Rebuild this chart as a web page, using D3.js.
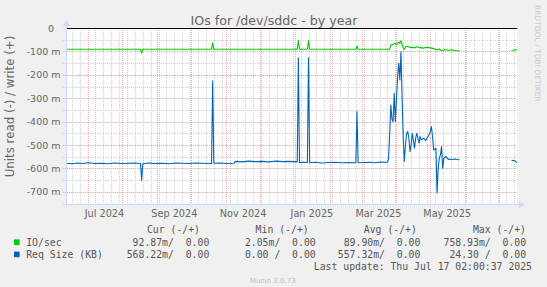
<!DOCTYPE html>
<html>
<head>
<meta charset="utf-8">
<script src="https://cdn.jsdelivr.net/npm/d3@7"></script>
<style>
  body { margin: 0; background: #f0f0f0; }
  svg { display: block; }
  text { font-family: "DejaVu Sans", sans-serif; fill: #666; }
  .mono { font-family: "DejaVu Sans Mono", monospace; white-space: pre; fill: #555; }
</style>
</head>
<body>
<script>
// read values (positive), drawn negated like munin does for read/write graphs
const ioRead = [
  ["2024-06-12", 0.091], ["2024-08-17", 0.091], ["2024-08-18", 0.107], ["2024-08-19", 0.091],
  ["2024-10-19", 0.091], ["2024-10-20", 0.063], ["2024-10-21", 0.091],
  ["2025-01-03", 0.091], ["2025-01-04", 0.054], ["2025-01-05", 0.091],
  ["2025-01-12", 0.091], ["2025-01-13", 0.054], ["2025-01-14", 0.091],
  ["2025-02-24", 0.091], ["2025-02-25", 0.077], ["2025-02-26", 0.091],
  ["2025-03-26", 0.091], ["2025-03-27", 0.073], ["2025-03-29", 0.070], ["2025-03-31", 0.065],
  ["2025-04-01", 0.072], ["2025-04-03", 0.060], ["2025-04-04", 0.066], ["2025-04-05", 0.054],
  ["2025-04-06", 0.070], ["2025-04-07", 0.087], ["2025-04-08", 0.091], ["2025-04-09", 0.080],
  ["2025-04-11", 0.078], ["2025-04-13", 0.084], ["2025-04-15", 0.082], ["2025-04-17", 0.085],
  ["2025-04-19", 0.080], ["2025-04-22", 0.084], ["2025-04-25", 0.086], ["2025-04-28", 0.082],
  ["2025-05-01", 0.085], ["2025-05-04", 0.088], ["2025-05-07", 0.094], ["2025-05-09", 0.090],
  ["2025-05-11", 0.097], ["2025-05-14", 0.092], ["2025-05-17", 0.095], ["2025-05-20", 0.093],
  ["2025-05-23", 0.096], ["2025-05-27", 0.097],
  ["2025-06-20", null],
  ["2025-07-12", 0.095], ["2025-07-17", 0.093]
];

const reqRead = [
  ["2024-06-12", 0.578], ["2024-06-17", 0.580], ["2024-06-22", 0.577], ["2024-06-27", 0.579],
  ["2024-07-02", 0.576], ["2024-07-08", 0.579], ["2024-07-13", 0.578], ["2024-07-19", 0.580],
  ["2024-07-25", 0.577], ["2024-07-31", 0.579], ["2024-08-06", 0.578], ["2024-08-12", 0.577],
  ["2024-08-17", 0.579], ["2024-08-18", 0.652], ["2024-08-19", 0.580], ["2024-08-24", 0.577],
  ["2024-08-30", 0.579], ["2024-09-05", 0.578], ["2024-09-11", 0.580], ["2024-09-17", 0.577],
  ["2024-09-23", 0.578], ["2024-09-29", 0.579], ["2024-10-05", 0.577], ["2024-10-11", 0.578],
  ["2024-10-19", 0.579], ["2024-10-20", 0.226], ["2024-10-21", 0.578], ["2024-10-27", 0.577],
  ["2024-11-02", 0.579], ["2024-11-08", 0.578], ["2024-11-09", 0.570], ["2024-11-15", 0.572],
  ["2024-11-21", 0.569], ["2024-11-27", 0.571], ["2024-12-03", 0.570], ["2024-12-09", 0.572],
  ["2024-12-15", 0.569], ["2024-12-21", 0.571], ["2024-12-27", 0.570], ["2025-01-03", 0.572],
  ["2025-01-04", 0.127], ["2025-01-05", 0.575], ["2025-01-09", 0.574], ["2025-01-12", 0.575],
  ["2025-01-13", 0.127], ["2025-01-14", 0.576], ["2025-01-19", 0.574], ["2025-01-25", 0.577],
  ["2025-01-31", 0.575], ["2025-02-06", 0.574], ["2025-02-12", 0.576], ["2025-02-18", 0.575],
  ["2025-02-24", 0.576], ["2025-02-25", 0.357], ["2025-02-26", 0.576], ["2025-03-03", 0.575],
  ["2025-03-08", 0.574], ["2025-03-13", 0.576], ["2025-03-18", 0.573], ["2025-03-24", 0.574],
  ["2025-03-25", 0.560], ["2025-03-26", 0.450], ["2025-03-27", 0.329], ["2025-03-28", 0.390],
  ["2025-03-29", 0.400], ["2025-03-30", 0.279], ["2025-03-31", 0.400], ["2025-04-01", 0.307],
  ["2025-04-02", 0.208], ["2025-04-03", 0.151], ["2025-04-04", 0.222], ["2025-04-05", 0.101],
  ["2025-04-06", 0.300], ["2025-04-07", 0.470], ["2025-04-08", 0.570], ["2025-04-09", 0.500],
  ["2025-04-10", 0.450], ["2025-04-11", 0.443], ["2025-04-12", 0.470], ["2025-04-13", 0.528],
  ["2025-04-14", 0.500], ["2025-04-15", 0.450], ["2025-04-16", 0.480], ["2025-04-17", 0.514],
  ["2025-04-18", 0.471], ["2025-04-19", 0.450], ["2025-04-20", 0.470], ["2025-04-21", 0.492],
  ["2025-04-22", 0.464], ["2025-04-23", 0.478], ["2025-04-24", 0.476], ["2025-04-25", 0.471],
  ["2025-04-26", 0.475], ["2025-04-27", 0.481], ["2025-04-28", 0.470], ["2025-04-29", 0.464],
  ["2025-04-30", 0.455], ["2025-05-01", 0.443], ["2025-05-02", 0.421], ["2025-05-03", 0.464],
  ["2025-05-04", 0.521], ["2025-05-05", 0.518], ["2025-05-06", 0.514], ["2025-05-07", 0.705],
  ["2025-05-08", 0.600], ["2025-05-09", 0.556], ["2025-05-10", 0.542], ["2025-05-11", 0.507],
  ["2025-05-12", 0.599], ["2025-05-13", 0.558], ["2025-05-14", 0.552], ["2025-05-15", 0.549],
  ["2025-05-16", 0.556], ["2025-05-17", 0.562], ["2025-05-18", 0.560], ["2025-05-20", 0.562],
  ["2025-05-23", 0.560], ["2025-05-25", 0.562], ["2025-05-27", 0.563],
  ["2025-06-20", null],
  ["2025-07-12", 0.565], ["2025-07-13", 0.566], ["2025-07-14", 0.565], ["2025-07-15", 0.567],
  ["2025-07-16", 0.572], ["2025-07-17", 0.575]
];

const yTicks = [0, -100, -200, -300, -400, -500, -600, -700];      // milli units
const xLabelMonths = ["2024-07", "2024-09", "2024-11", "2025-01", "2025-03", "2025-05"];

const seriesNames = ["IO/sec", "Req Size (KB)"];
const seriesColors = ["#00cc00", "#0066b3"];
const legendHeader = ["Cur (-/+)", "Min (-/+)", "Avg (-/+)", "Max (-/+)"];
const legendRows = [
  ["92.87m/  0.00", "2.05m/  0.00", "89.90m/  0.00", "758.93m/  0.00"],
  ["568.22m/  0.00", "0.00 /  0.00", "557.32m/  0.00", "24.30 /  0.00"]
];

const titleText = "IOs for /dev/sddc - by year";
const unitText = "Units read (-) / write (+)";
const lastUpdate = "Last update: Thu Jul 17 02:00:37 2025";

let svg = null;
let x, y = null;
let plot = null;

const parseDay = d3.utcParse("%Y-%m-%d");
const parseMonth = d3.utcParse("%Y-%m");

setupCanvas();
setupScales();
appendGrid();
appendLines();
appendAxes();
appendTexts();
appendLegend();

function setupCanvas() {
  plot = {left: 66.2, right: 517.2, top: 28, bottom: 203.5};
  svg = d3.select("body").append("svg")
    .attr("width", 547)
    .attr("height", 287);
  svg.append("rect")
    .attr("x", 66).attr("y", 28)
    .attr("width", 451).attr("height", 175.5)
    .attr("fill", "#ffffff");
}

function setupScales() {
  x = d3.scaleUtc()
    .domain([new Date(Date.UTC(2024, 5, 12, 2, 0, 37)), new Date(Date.UTC(2025, 6, 17, 2, 0, 37))])
    .range([plot.left, plot.right]);
  y = d3.scaleLinear()
    .domain([-0.75, 0])
    .range([plot.bottom, plot.top]);
}

function px(v) { return Math.round(v) + 0.5; }

function appendGrid() {
  const [t0, t1] = x.domain();
  const g = svg.append("g");
  const minorColor = "#cdcdcd";
  const majorColor = "#f2acac";

  // minor: weeks and 50m steps
  g.selectAll(".vminor")
    .data(d3.utcMonday.range(t0, t1))
    .enter().append("line")
    .attr("x1", d => px(x(d))).attr("x2", d => px(x(d)))
    .attr("y1", plot.top).attr("y2", plot.bottom + 2)
    .attr("stroke", minorColor).attr("stroke-dasharray", "1,1");

  g.selectAll(".hminor")
    .data(d3.range(-750, 0, 50))
    .enter().append("line")
    .attr("x1", plot.left - 3).attr("x2", plot.right)
    .attr("y1", d => px(y(d / 1000))).attr("y2", d => px(y(d / 1000)))
    .attr("stroke", minorColor).attr("stroke-dasharray", "1,1");

  // major: months and 100m steps
  g.selectAll(".vmajor")
    .data(d3.utcMonth.range(t0, t1))
    .enter().append("line")
    .attr("x1", d => px(x(d))).attr("x2", d => px(x(d)))
    .attr("y1", plot.top).attr("y2", plot.bottom + 3)
    .attr("stroke", majorColor).attr("stroke-dasharray", "1,1");

  g.selectAll(".hmajor")
    .data(yTicks.slice(1))
    .enter().append("line")
    .attr("x1", plot.left - 3).attr("x2", plot.right)
    .attr("y1", d => px(y(d / 1000))).attr("y2", d => px(y(d / 1000)))
    .attr("stroke", majorColor).attr("stroke-dasharray", "1,1");
}

function appendLines() {
  const line = d3.line()
    .defined(d => d[1] != null)
    .x(d => x(parseDay(d[0])))
    .y(d => y(-d[1]));

  [ioRead, reqRead].forEach((data, i) => {
    svg.append("path")
      .datum(data)
      .attr("fill", "none")
      .attr("stroke", seriesColors[i])
      .attr("stroke-width", 1.1)
      .attr("stroke-linejoin", "round")
      .attr("d", line);
  });

  // zero line
  svg.append("line")
    .attr("x1", plot.left).attr("x2", plot.right)
    .attr("y1", px(y(0))).attr("y2", px(y(0)))
    .attr("stroke", "#000000");
}

function appendAxes() {
  const axisColor = "#cfd6f8";
  const yb = px(plot.bottom);
  const xl = px(plot.left);

  svg.append("line")
    .attr("x1", xl - 3).attr("x2", 520)
    .attr("y1", yb).attr("y2", yb)
    .attr("stroke", axisColor);
  svg.append("path")
    .attr("d", `M519,${yb - 3.5}L525,${yb}L519,${yb + 3.5}Z`)
    .attr("fill", axisColor);

  svg.append("line")
    .attr("x1", xl).attr("x2", xl)
    .attr("y1", yb + 3).attr("y2", 25)
    .attr("stroke", axisColor);
  svg.append("path")
    .attr("d", `M${xl - 3.5},26L${xl},20L${xl + 3.5},26Z`)
    .attr("fill", axisColor);

  // y tick labels
  svg.selectAll(".ylab")
    .data(yTicks)
    .enter().append("text")
    .attr("x", d => d === 0 ? 54 : 60.5)
    .attr("y", d => y(d / 1000) + 3.5)
    .attr("text-anchor", "end")
    .style("font-size", "9.5px")
    .text(d => d === 0 ? "0" : `${d} m`);

  // x labels centred half a month after the month start
  const fmt = d3.utcFormat("%b %Y");
  svg.selectAll(".xlab")
    .data(xLabelMonths.map(parseMonth))
    .enter().append("text")
    .attr("x", d => x(d3.utcDay.offset(d, 15)))
    .attr("y", 217.3)
    .attr("text-anchor", "middle")
    .style("font-size", "9.7px")
    .text(d => fmt(d));
}

function appendTexts() {
  svg.append("text")
    .attr("x", 274).attr("y", 24.7)
    .attr("text-anchor", "middle")
    .style("font-size", "12.6px")
    .text(titleText);

  svg.append("text")
    .attr("transform", "translate(14.3,106.5) rotate(-90)")
    .attr("text-anchor", "middle")
    .style("font-size", "11.8px")
    .text(unitText);

  svg.append("text")
    .attr("transform", "translate(534.5,5) rotate(90)")
    .style("font-size", "7.5px")
    .style("fill", "#c8c8c8")
    .text("RRDTOOL / TOBI OETIKER");

  svg.append("text")
    .attr("x", 272.8).attr("y", 282.5)
    .attr("text-anchor", "middle")
    .style("font-size", "7px")
    .style("fill", "#bdbdbd")
    .text("Munin 2.0.73");
}

function appendLegend() {
  const headerEnds = [200, 308.7, 416.9, 526];
  const valueEnds = [209.3, 315.7, 420.4, 526.1];
  const rowY = [245.7, 257.9];

  svg.selectAll(".lhead")
    .data(legendHeader)
    .enter().append("text")
    .attr("class", "mono")
    .attr("x", (d, i) => headerEnds[i])
    .attr("y", 232.5)
    .attr("text-anchor", "end")
    .style("font-size", "9.8px")
    .text(d => d);

  seriesNames.forEach((name, r) => {
    svg.append("rect")
      .attr("x", 14).attr("y", rowY[r] - 6.3)
      .attr("width", 5.6).attr("height", 5.6)
      .attr("fill", seriesColors[r]);
    svg.append("text")
      .attr("class", "mono")
      .attr("x", 26.2).attr("y", rowY[r])
      .style("font-size", "9.8px")
      .text(name);
    svg.selectAll(".lrow" + r)
      .data(legendRows[r])
      .enter().append("text")
      .attr("class", "mono")
      .attr("x", (d, i) => valueEnds[i])
      .attr("y", rowY[r])
      .attr("text-anchor", "end")
      .style("font-size", "9.8px")
      .text(d => d);
  });

  svg.append("text")
    .attr("class", "mono")
    .attr("x", 532).attr("y", 270.2)
    .attr("text-anchor", "end")
    .style("font-size", "9.8px")
    .text(lastUpdate);
}
</script>
</body>
</html>
